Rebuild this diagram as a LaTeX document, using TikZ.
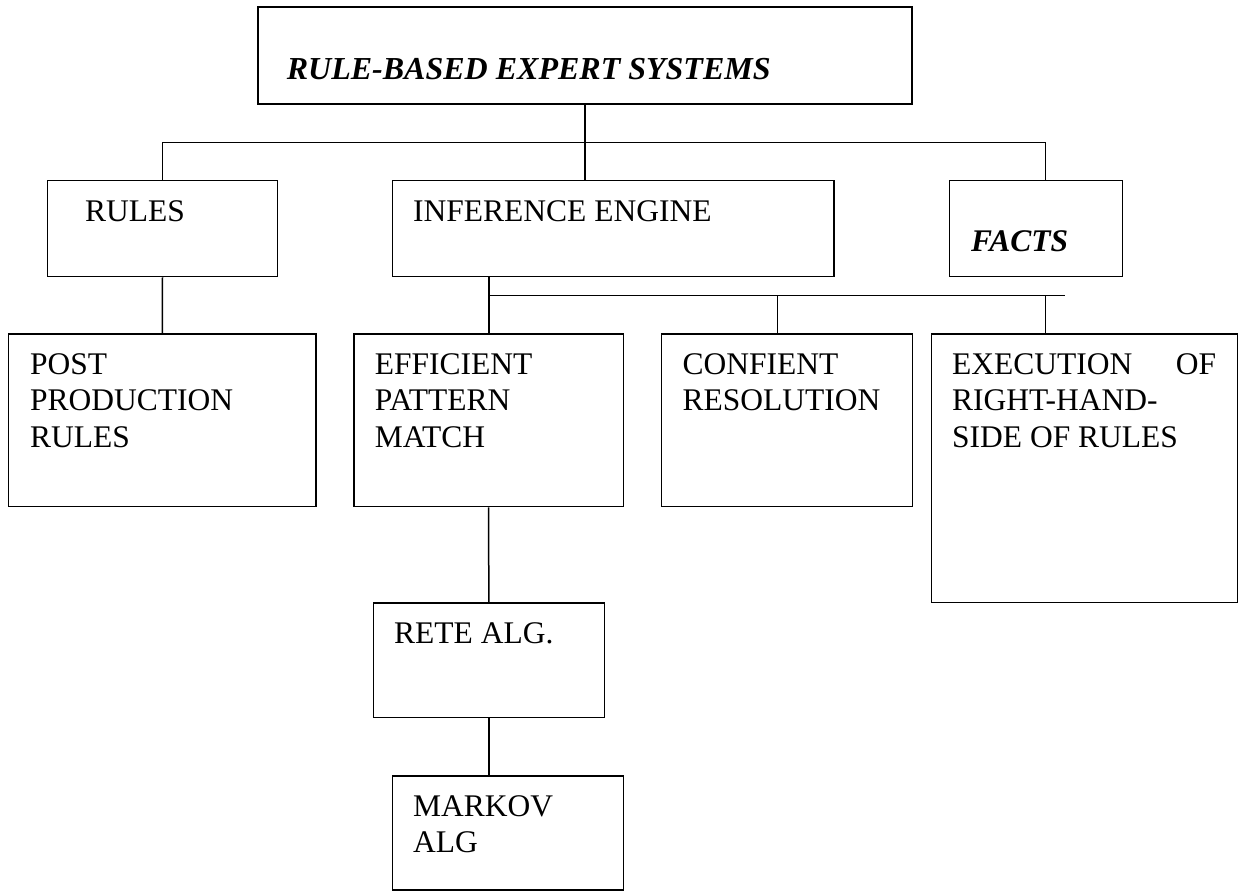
\documentclass[tikz,border=0pt]{standalone}
\usepackage{fontspec}
\setmainfont{Liberation Serif}
\tikzset{
    box/.style={draw,line width=1.5pt,inner sep=0pt},
    lbl/.style={anchor=base west,inner sep=0pt,align=left},
    link/.style={line width=1.5pt}
}
\begin{document}
\begin{tikzpicture}[x=1pt,y=-1pt,font=\fontsize{31.5}{36.8}\selectfont]
    \useasboundingbox(0,0)rectangle(1238,891);
    % boxes
    \node[box,line width=2pt,minimum width=653.4pt,minimum height=96.7pt](title)at(585,55.65){};
    \node[box,minimum width=230.4pt,minimum height=95.8pt](rules)at(162.5,228.6){};
    \node[box,minimum width=441.3pt,minimum height=95.8pt](inference)at(613.35,228.6){};
    \node[box,minimum width=173pt,minimum height=95.8pt](facts)at(1035.8,228.6){};
    \node[box,minimum width=307.9pt,minimum height=172.7pt](post)at(162.25,420.35){};
    \node[box,minimum width=269.3pt,minimum height=172.7pt](efficient)at(488.65,420.35){};
    \node[box,minimum width=250.8pt,minimum height=172.7pt](confient)at(787.1,420.35){};
    \node[box,minimum width=305.8pt,minimum height=268.7pt](execution)at(1084.4,468.35){};
    \node[box,minimum width=231pt,minimum height=114.7pt](rete)at(488.8,660.35){};
    \node[box,minimum width=230.6pt,minimum height=114pt](markov)at(508,833){};
    % texts (multi-line ones sit on their last baseline)
    \node[lbl,font=\fontsize{32}{36.8}\selectfont](titletxt)at(286.7,79.3){\textbf{\textit{RULE-BASED EXPERT SYSTEMS}}};
    \node[lbl](rulestxt)at(85,221){RULES};
    \node[lbl](inferencetxt)at(413,221){INFERENCE ENGINE};
    \node[lbl](factstxt)at(971,251.7){\textbf{\textit{FACTS}}};
    \node[lbl](posttxt)at(30,447.6){POST\\PRODUCTION\\RULES};
    \node[lbl](efficienttxt)at(374.7,447.6){EFFICIENT\\PATTERN\\MATCH};
    \node[lbl](confienttxt)at(682.5,410.8){CONFIENT\\RESOLUTION};
    \node[lbl](executiontxt)at(952,447.6){\makebox[264pt][s]{EXECUTION OF}\\RIGHT-HAND-\\SIDE OF RULES};
    \node[lbl](retetxt)at(394,643){RETE ALG.};
    \node[lbl](markovtxt)at(413,852.8){MARKOV\\ALG};
    % links
    \coordinate(busl)at(162.5,142.7);
    \coordinate(busr)at(1045.7,142.7);
    \draw[link](title.south)--(title.south|-inference.north);
    \draw[link](rules.north)--(busl)--(busr)--(busr|-facts.north);
    \draw[link](rules.south)--(post.north);
    \coordinate(subl)at(489,295.7);
    \coordinate(subm)at(777.3,295.7);
    \coordinate(subf)at(1045.7,295.7);
    \coordinate(subr)at(1065.3,295.7);
    \draw[link](subl|-inference.south)--(subl|-efficient.north);
    \draw[link](subl)--(subr);
    \draw[link](subm)--(subm|-confient.north);
    \draw[link](subf)--(subf|-execution.north);
    \draw[link](efficient.south)--(rete.north);
    \draw[link](rete.south)--(rete.south|-markov.north);
\end{tikzpicture}
\end{document}
